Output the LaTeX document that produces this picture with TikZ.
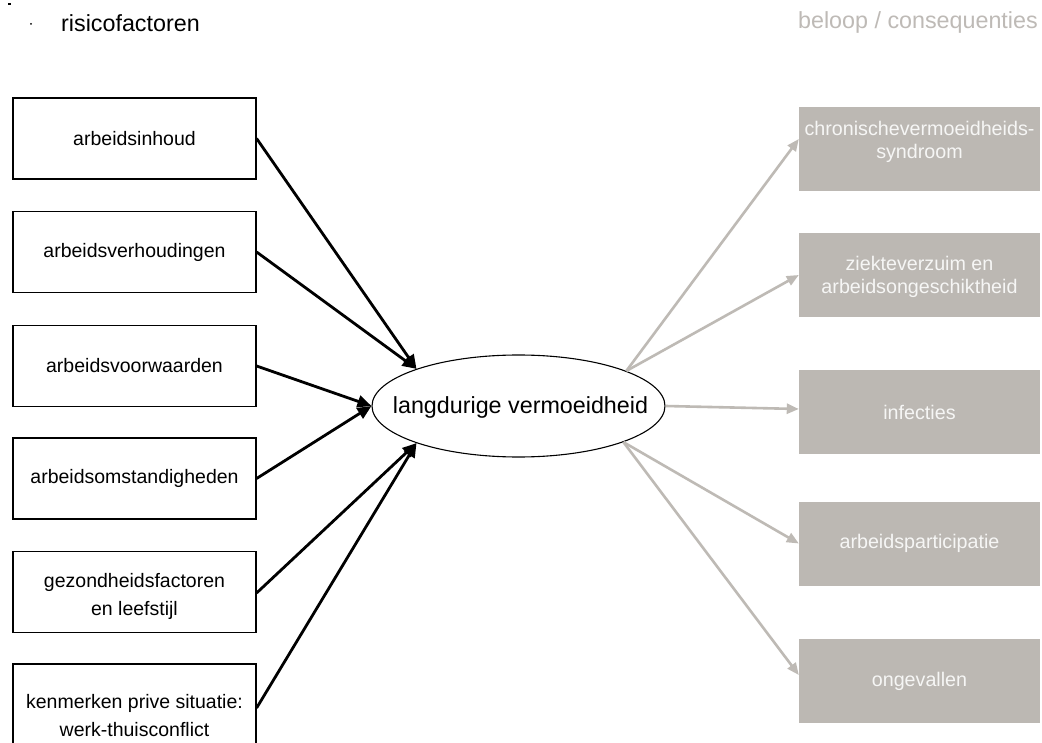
\documentclass[tikz,border=0pt]{standalone}
\usepackage{fontspec}
\setmainfont{Liberation Sans}
\usetikzlibrary{arrows.meta,shapes.geometric}
\definecolor{boxgray}{RGB}{188,184,179}
\definecolor{linegray}{RGB}{190,186,181}
\definecolor{headgray}{RGB}{190,186,182}
\definecolor{boxtext}{RGB}{246,246,245}
\tikzset{
  factor/.style={draw=black, line width=1.2pt, fill=white, minimum width=243pt, minimum height=81pt,
    inner sep=0pt, align=center, font=\fontsize{19.5pt}{28pt}\selectfont},
  factortext/.style={inner sep=0pt, align=center, font=\fontsize{19.5pt}{28pt}\selectfont},
  conseq/.style={fill=boxgray, draw=none, minimum width=241pt, minimum height=84pt,
    inner sep=0pt, align=center, text=boxtext, font=\fontsize{19.7pt}{23pt}\selectfont},
  conseqtext/.style={inner sep=0pt, align=center, text=boxtext, font=\fontsize{19.7pt}{23pt}\selectfont},
  inarrow/.style={line width=2.8pt, black, -{Triangle[length=14pt,width=12pt]}},
  outarrow/.style={line width=2.6pt, linegray, -{Triangle[length=12pt,width=10pt]}},
  header/.style={inner sep=0pt, font=\fontsize{23.3pt}{28pt}\selectfont}
}
\begin{document}
\begin{tikzpicture}[x=1pt,y=-1pt]
\useasboundingbox[fill=white] (0,0) rectangle (1042,743);
% tiny marks top-left
\fill[black] (8,3) rectangle (10.5,5.5);
\fill[black] (31,24) circle (1pt);
\node[header, anchor=base west] (hl) at (61,31.5) {risicofactoren};
\node[header, anchor=base east, text=headgray] (hr) at (1038,29) {beloop / consequenties};

% left factor boxes
\node[factor] (f1) at (134.5,138.5) {arbeidsinhoud};
\node[factor] (f2) at (134.5,252) {arbeidsverhoudingen};
\node[factor] (f3) at (134.5,366) {arbeidsvoorwaarden};
\node[factor] (f4) at (134.5,478.5) {arbeidsomstandigheden};
\node[factor] (f5) at (134.5,592) {};
\node[factortext] (t5) at (134.5,596) {gezondheidsfactoren\\en leefstijl};
\node[factor, minimum height=104pt] (f6) at (134.5,716) {kenmerken prive situatie:\\werk-thuisconflict};

% center ellipse
\node[ellipse, draw=black, line width=1.1pt, fill=white, minimum width=293pt, minimum height=102pt,
  inner sep=0pt] (e) at (518.5,406) {};
\node[inner sep=0pt, font=\fontsize{23.3pt}{28pt}\selectfont] (et) at (520.5,407) {langdurige vermoeidheid};

% right consequence boxes
\node[conseq] (r1) at (919.5,149) {};
\node[conseqtext] (t1) at (919.5,142) {chronischevermoeidheids-\\syndroom};
\node[conseq] (r2) at (919.5,275) {};
\node[conseqtext] (t2) at (919.5,277) {ziekteverzuim en\\arbeidsongeschiktheid};
\node[conseq] (r3) at (919.5,412) {infecties};
\node[conseq] (r4) at (919.5,543.5) {arbeidsparticipatie};
\node[conseq] (r5) at (919.5,681) {ongevallen};

% incoming arrows
\draw[inarrow] (f1.east) -- (e.160.6);
\draw[inarrow] (f2.east) -- (e.160.6);
\draw[inarrow] (f3.east) -- (e.west);
\draw[inarrow] (f4.east) -- (e.west);
\draw[inarrow] ([yshift=-1pt]f5.east) -- (e.200.8);
\draw[inarrow] ([yshift=8pt]f6.east) -- (e.200.8);

% outgoing arrows
\draw[outarrow] (e.18.5) -- ([yshift=10pt]r1.west);
\draw[outarrow] (e.18.5) -- (r2.west);
\draw[outarrow] (e.east) -- ([yshift=3pt]r3.west);
\draw[outarrow] (e.341) -- (r4.west);
\draw[outarrow] (e.341) -- ([yshift=6pt]r5.west);
\end{tikzpicture}
\end{document}
